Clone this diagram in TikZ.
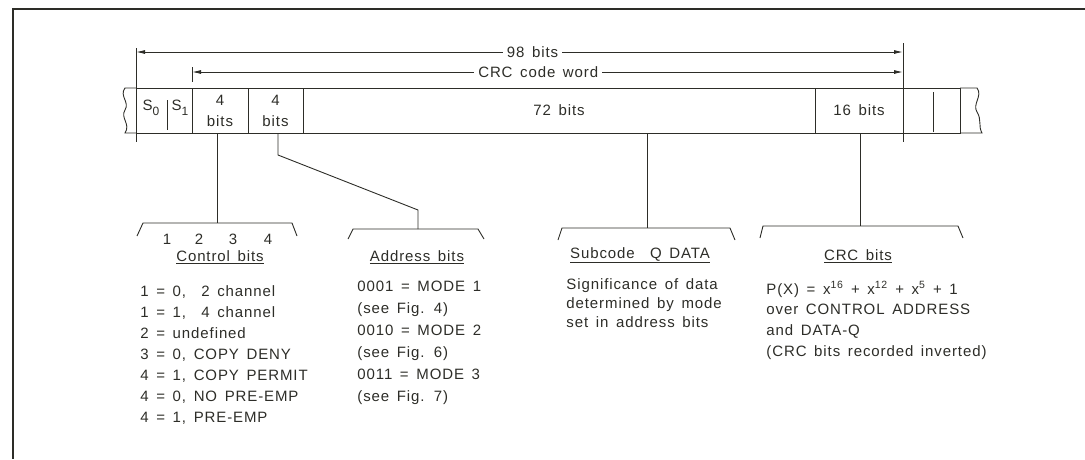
\documentclass[tikz,border=0pt]{standalone}
\usepackage{fontspec}
\setmainfont{Liberation Sans}[LetterSpace=6, WordSpace=1.5]
\usetikzlibrary{arrows.meta, positioning}

\definecolor{ink}{RGB}{45,45,40}

\begin{document}
\begin{tikzpicture}[
  x=1pt, y=-1pt,
  ink, line width=0.9pt,
  font=\fontsize{15}{21}\selectfont,
  cell/.style={draw, minimum height=45pt, inner sep=0pt, outer sep=0pt, align=center},
  txt/.style={inner sep=0pt, align=left, anchor=north west},
  head/.style={inner sep=0pt},
  dim/.style={{Latex[length=9pt, width=4pt]}-{Latex[length=9pt, width=4pt]}},
  lbl/.style={fill=white, inner sep=4pt},
  frame/.style={line width=1.6pt}
]
\useasboundingbox (0,0) rectangle (1085,459);

% Frame
\draw[frame] (1085,9) -- (13,9) -- (13,459);

% Bit cells
\node[cell, minimum width=56pt] (sync) at (164,110.5) {};
\node[cell, minimum width=56pt, right=0pt of sync] (ctrl) {4\\bits};
\node[cell, minimum width=55pt, right=0pt of ctrl] (addr) {4\\bits};
\node[cell, minimum width=512pt, right=0pt of addr] (data) {72 bits};
\node[cell, minimum width=88pt, right=0pt of data] (crc) {16 bits};
\node[cell, minimum width=57pt, right=0pt of crc] (next) {};
\node[head] (s0) at (151,108) {S\raisebox{-5pt}{\fontsize{12}{12}\selectfont 0}};
\node[head] (s1) at (180,108) {S\raisebox{-5pt}{\fontsize{12}{12}\selectfont 1}};
\draw (167,100) -- (167,130);
\draw (933,92) -- (933,132);

% Broken ends of the frame
\draw (sync.north west) -- (125,88) .. controls (119,96) and (130,102) .. (125,110)
  .. controls (120,118) and (131,124) .. (125,133) -- (sync.south west);
\draw (next.north east) -- (977,88) .. controls (983,96) and (972,104) .. (977,112)
  .. controls (982,120) and (978,126) .. (982,133) -- (next.south east);

% Dimension lines
\coordinate (a98) at (136,52);
\coordinate (b98) at (903,52);
\coordinate (acrc) at (192,72);
\coordinate (bcrc) at (903,72);
\draw (136,48) -- (136,142);
\draw (192,67) -- (192,82);
\draw (903,43) -- (903,142);
\draw[dim] (a98) -- node[lbl, pos=0.517] (l98) {98 bits} (b98);
\draw[dim] (acrc) -- node[lbl, pos=0.487] (lcrc) {CRC code word} (bcrc);

% Leaders and braces
\coordinate (ctrlb) at (217,223);
\coordinate (addrb) at (418,229);
\coordinate (datab) at (647,228);
\coordinate (crcb) at (860,226);
\draw (ctrlb |- ctrl.south) -- (ctrlb);
\draw ([xshift=2.5pt]addr.south) -- ++(0,22) -- ([yshift=19pt]addrb) -- (addrb);
\draw (datab |- data.south) -- (datab);
\draw (crcb |- crc.south) -- (crcb);
\draw (ctrlb) ++(-80,13) -- ++(6,-13) -- ++(149,0) -- ++(5,13);
\draw (addrb) ++(-70,10) -- ++(5,-10) -- ++(125,0) -- ++(6,10);
\draw (datab) ++(-89,12) -- ++(4,-12) -- ++(168,0) -- ++(5,12);
\draw (crcb) ++(-100,12) -- ++(3,-12) -- ++(195,0) -- ++(5,12);

% Control bits
\foreach \i/\x in {1/167,2/199,3/233,4/268}
  \node[head] (ctln\i) at (\x,239) {\i};
\node[head] (ctrlh) at (220,257) {\underline{Control bits}};
\node[txt] (ctrll) at (140,285) {1 = 0,\ \ 2 channel\\1 = 1,\ \ 4 channel\\2 = undefined\\
  3 = 0, COPY DENY\\4 = 1, COPY PERMIT\\4 = 0, NO PRE-EMP\\4 = 1, PRE-EMP};

% Address bits
\node[head] (addrh) at (417,257) {\underline{Address bits}};
\node[txt, font=\fontsize{15}{22}\selectfont] (addrl) at (357,281)
  {0001 = MODE 1\\(see Fig. 4)\\0010 = MODE 2\\(see Fig. 6)\\0011 = MODE 3\\(see Fig. 7)};

% Subcode Q data
\node[head] (datah) at (640,255) {\underline{Subcode\ \ Q DATA}};
\node[txt, font=\fontsize{15}{19}\selectfont] (datal) at (566,278)
  {Significance of data\\determined by mode\\set in address bits};

% CRC bits
\node[head] (crch) at (858,256) {\underline{CRC bits}};
\node[txt, font=\fontsize{15}{20.7}\selectfont] (crcl) at (766,281)
  {P(X) = x\textsuperscript{16} + x\textsuperscript{12} + x\textsuperscript{5} + 1\\over CONTROL ADDRESS\\
  and DATA-Q\\(CRC bits recorded inverted)};

\end{tikzpicture}
\end{document}
